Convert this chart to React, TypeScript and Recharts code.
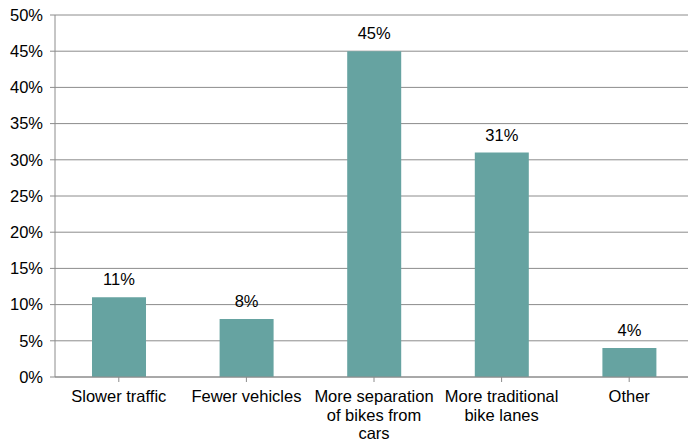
import React from 'react'
import { BarChart, Bar, XAxis, YAxis, CartesianGrid, LabelList } from 'recharts'

const categories = [
  'Slower traffic',
  'Fewer vehicles',
  'More separation\nof bikes from\ncars',
  'More traditional\nbike lanes',
  'Other',
]
const shares = [11, 8, 45, 31, 4]
const yTicks = [0, 5, 10, 15, 20, 25, 30, 35, 40, 45, 50]

const data = categories.map((name, i) => ({ name, value: shares[i] }))

const FONT = 'Liberation Sans, Arial, sans-serif'
const FONT_SIZE = 16.5
const AXIS = '#8c8c8c'

// category labels are split on '\n' into stacked lines
function CategoryTick({ x, y, payload }: any) {
  const lines = String(payload.value).split('\n')
  return (
    <text x={x} y={y} textAnchor="middle" fontFamily={FONT} fontSize={FONT_SIZE} fill="#000">
      {lines.map((line, i) => (
        <tspan key={i} x={x} dy={i === 0 ? 18 : 18.5}>
          {line}
        </tspan>
      ))}
    </text>
  )
}

export default function App() {
  return (
    <div style={{ position: 'absolute', left: 0, top: 0, width: 688, height: 442, overflow: 'hidden', background: '#fff' }}>
      <BarChart
        width={700}
        height={442}
        data={data}
        margin={{ top: 15, right: 7, bottom: 0, left: 0 }}
        barCategoryGap="29%"
      >
        <CartesianGrid vertical={false} stroke={AXIS} />
        <XAxis
          dataKey="name"
          interval={0}
          height={65}
          stroke={AXIS}
          tickLine={{ stroke: AXIS }}
          tickSize={5}
          tick={<CategoryTick />}
        />
        <YAxis
          width={55}
          domain={[0, 50]}
          ticks={yTicks}
          tickFormatter={(v) => `${v}%`}
          stroke={AXIS}
          tickSize={5}
          tickMargin={7}
          tick={{ fontFamily: FONT, fontSize: FONT_SIZE, fill: '#000' }}
        />
        <Bar dataKey="value" fill="#66a3a1" isAnimationActive={false}>
          <LabelList
            dataKey="value"
            position="top"
            offset={12}
            formatter={(v: any) => `${v}%`}
            style={{ fontFamily: FONT, fontSize: FONT_SIZE, fill: '#000' }}
          />
        </Bar>
      </BarChart>
    </div>
  )
}
